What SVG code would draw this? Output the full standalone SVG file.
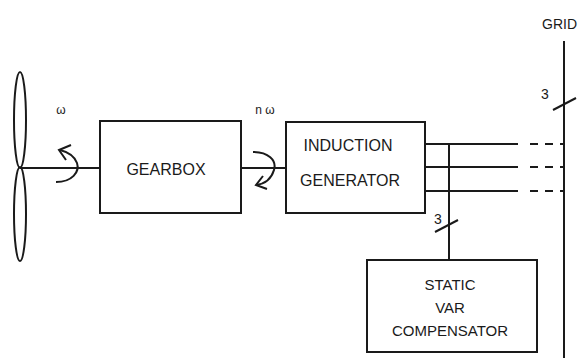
<svg xmlns="http://www.w3.org/2000/svg" width="581" height="358" viewBox="0 0 581 358">
<style>
.ln{stroke:#1a1a1a;stroke-width:2;fill:none}
.box{stroke:#1a1a1a;stroke-width:2;fill:#fff}
.t{font-family:"Liberation Sans",Arial,sans-serif;fill:#1a1a1a}
.lbl{font-size:16px;text-anchor:middle}
.sm{font-size:14px;text-anchor:middle}
.dash{stroke:#1a1a1a;stroke-width:2;stroke-dasharray:8 7;fill:none}
</style>
<rect width="581" height="358" fill="#fff"/>
<g id="connectors">
<line class="ln" x1="20" y1="168" x2="100" y2="168"/>
<line class="ln" x1="241" y1="168" x2="286" y2="168"/>
<line class="ln" x1="425" y1="144" x2="518" y2="144"/>
<line class="ln" x1="425" y1="167" x2="518" y2="167"/>
<line class="ln" x1="425" y1="191" x2="518" y2="191"/>
<line class="dash" x1="530" y1="144" x2="564" y2="144"/>
<line class="dash" x1="530" y1="167" x2="564" y2="167"/>
<line class="dash" x1="530" y1="191" x2="564" y2="191"/>
<line class="ln" x1="449" y1="144" x2="449" y2="260"/>
<line class="ln" x1="435" y1="232" x2="458" y2="220"/>
<text class="t sm" x="438" y="224">3</text>
</g>
<g id="turbine">
<ellipse class="ln" cx="20" cy="120" rx="6" ry="48"/>
<ellipse class="ln" cx="20" cy="214" rx="6" ry="47"/>
<path class="ln" d="M56 182 C72 182 80 172 77 163 C74 155 68 152 60 150"/>
<polyline class="ln" points="71,145 59,150 66,160"/>
<text class="t" x="61" y="114" font-size="12" text-anchor="middle">ω</text>
</g>
<g id="gearbox">
<rect class="box" x="100" y="121" width="141" height="92"/>
<text class="t lbl" x="166" y="175">GEARBOX</text>
</g>
<g id="generator">
<path class="ln" d="M253 152 C268 152 277 160 274 170 C271 180 264 184 256 185"/>
<polyline class="ln" points="263,176 256,185 267,189"/>
<text class="t" x="265" y="114" font-size="12" text-anchor="middle">n ω</text>
<rect class="box" x="286" y="122" width="139" height="91"/>
<text class="t lbl" x="348" y="151">INDUCTION</text>
<text class="t lbl" x="350" y="186">GENERATOR</text>
</g>
<g id="svc">
<rect class="box" x="367" y="260" width="170" height="92"/>
<text class="t" x="450" y="290" font-size="15" text-anchor="middle">STATIC</text>
<text class="t" x="450" y="313" font-size="15" text-anchor="middle">VAR</text>
<text class="t" x="450" y="336" font-size="15" text-anchor="middle">COMPENSATOR</text>
</g>
<g id="grid">
<line class="ln" x1="564" y1="41" x2="564" y2="358"/>
<line class="ln" x1="553" y1="110" x2="576" y2="98"/>
<text class="t sm" x="545" y="99">3</text>
<text class="t" x="542" y="29" font-size="14">GRID</text>
</g>
</svg>
